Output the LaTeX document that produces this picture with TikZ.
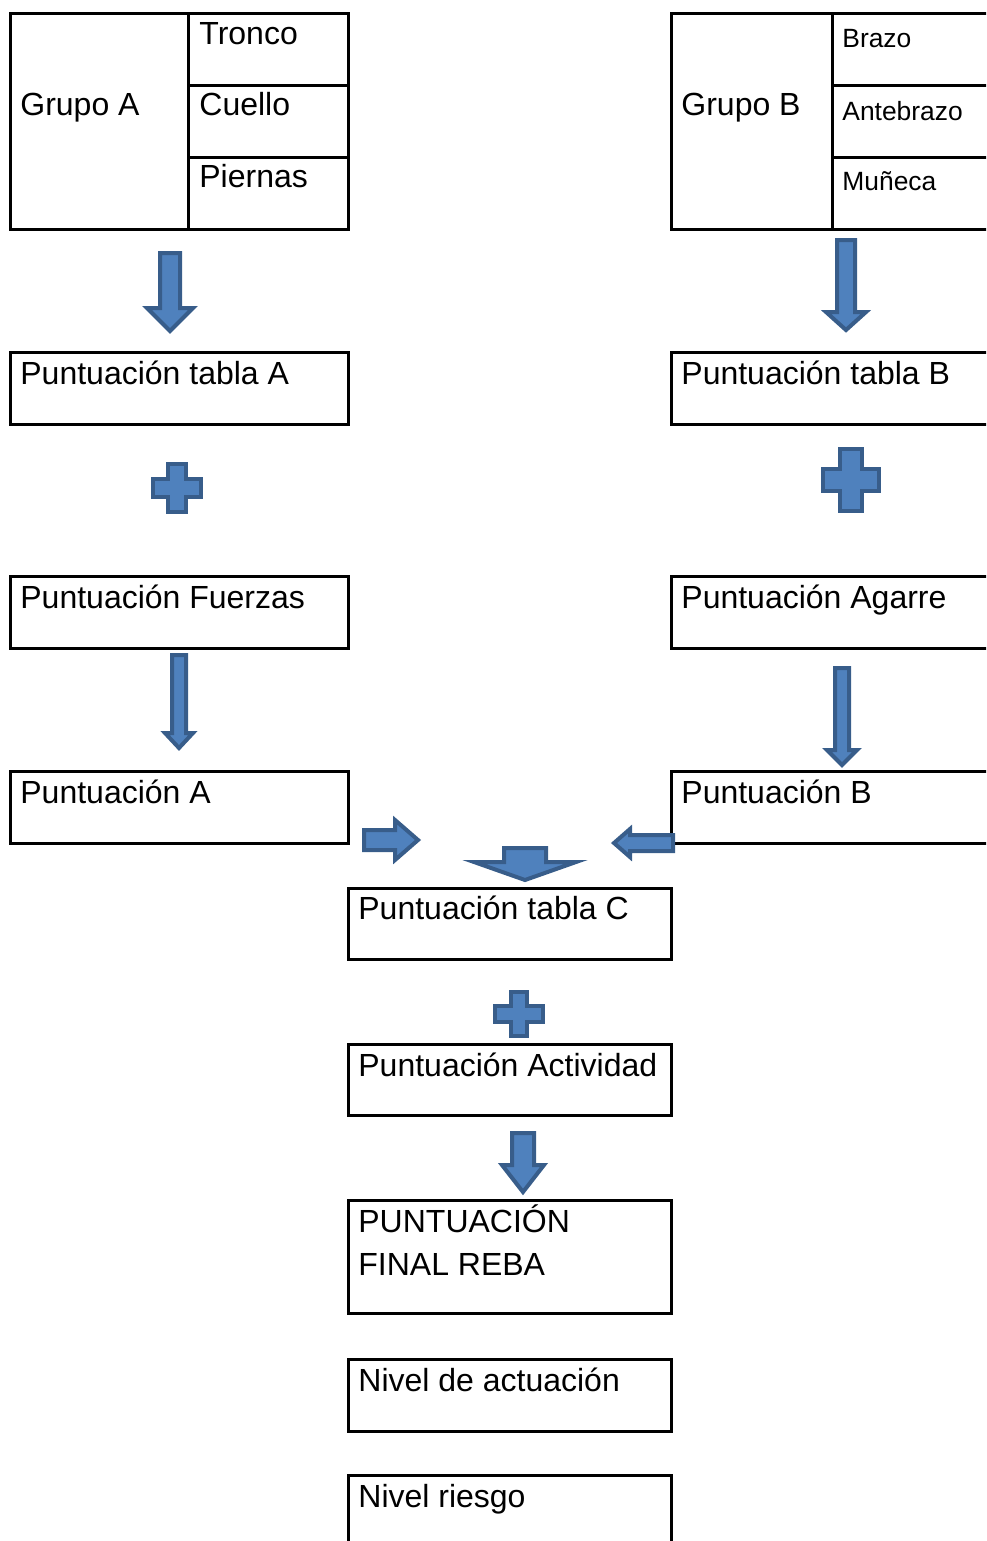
\documentclass[tikz,border=0pt]{standalone}
\usepackage{fontspec}
\setmainfont{Liberation Sans}
\usepackage{tikz}
\usepackage{xcolor}

\definecolor{blkfill}{HTML}{4F81BD}
\definecolor{blkline}{HTML}{385D8A}

% block arrows: centre x, top y, tip y, shaft half, head half, head start y
\newcommand{\downblock}[6]{%
  \draw[blk] (#1-#4,#2) -- (#1+#4,#2) -- (#1+#4,#6) -- (#1+#5,#6) -- (#1,#3)
    -- (#1-#5,#6) -- (#1-#4,#6) -- cycle;}
% horizontal: tail x, tip x, centre y, shaft half, head half, head start x
\newcommand{\sideblock}[6]{%
  \draw[blk] (#1,#3-#4) -- (#6,#3-#4) -- (#6,#3-#5) -- (#2,#3) -- (#6,#3+#5)
    -- (#6,#3+#4) -- (#1,#3+#4) -- cycle;}
% plus sign: centre x, centre y, half width, half height, arm half
\newcommand{\plusblock}[5]{%
  \draw[blk] (#1-#5,#2-#4) -- (#1+#5,#2-#4) -- (#1+#5,#2-#5) -- (#1+#3,#2-#5)
    -- (#1+#3,#2+#5) -- (#1+#5,#2+#5) -- (#1+#5,#2+#4) -- (#1-#5,#2+#4)
    -- (#1-#5,#2+#5) -- (#1-#3,#2+#5) -- (#1-#3,#2-#5) -- (#1-#5,#2-#5) -- cycle;}

\begin{document}
\begin{tikzpicture}[x=0.5pt, y=-0.5pt,
  box/.style={draw=black, line width=1.5pt},
  blk/.style={fill=blkfill, draw=blkline, line width=2pt, line join=miter},
  lbl/.style={anchor=base west, inner sep=0pt, font=\fontsize{16}{19}\selectfont},
  slbl/.style={anchor=base west, inner sep=0pt, font=\fontsize{13.2}{16}\selectfont}]
  \useasboundingbox (0,0) rectangle (986,1541);
  \clip (0,0) rectangle (986,1541);
  % Grupo A
  \draw[box] (10,14) rectangle (348,229);
  \draw[box] (188,14) -- (188,229);
  \draw[box] (188,86) -- (348,86);
  \draw[box] (188,157) -- (348,157);
  \node[lbl] (grupoA) at (20,116) {Grupo A};
  \node[lbl] (tronco) at (199,45) {Tronco};
  \node[lbl] (cuello) at (199,116) {Cuello};
  \node[lbl] (piernas) at (199,187) {Piernas};
  % Grupo B
  \draw[box] (671,14) rectangle (1000,229);
  \draw[box] (832,14) -- (832,229);
  \draw[box] (832,86) -- (1000,86);
  \draw[box] (832,157) -- (1000,157);
  \node[lbl] (grupoB) at (681,116) {Grupo B};
  \node[slbl] (brazo) at (842,48) {Brazo};
  \node[slbl] (antebrazo) at (842,120) {Antebrazo};
  \node[slbl] (muneca) at (842,191) {Muñeca};
  % Columna A
  \draw[box] (10,352) rectangle (348,424);
  \node[lbl] (tablaA) at (20,384) {Puntuación tabla A};
  \draw[box] (10,576) rectangle (348,648);
  \node[lbl] (fuerzas) at (20,608) {Puntuación Fuerzas};
  \draw[box] (10,771) rectangle (348,843);
  \node[lbl] (puntA) at (20,803) {Puntuación A};
  % Columna B
  \draw[box] (671,352) rectangle (1000,424);
  \node[lbl] (tablaB) at (681,384) {Puntuación tabla B};
  \draw[box] (671,576) rectangle (1000,648);
  \node[lbl] (agarre) at (681,608) {Puntuación Agarre};
  \draw[box] (671,771) rectangle (1000,843);
  \node[lbl] (puntB) at (681,803) {Puntuación B};
  % Columna C
  \draw[box] (348,888) rectangle (671,959);
  \node[lbl] (tablaC) at (358,919) {Puntuación tabla C};
  \draw[box] (348,1044) rectangle (671,1115);
  \node[lbl] (actividad) at (358,1076) {Puntuación Actividad};
  \draw[box] (348,1200) rectangle (671,1313);
  \node[lbl] (final1) at (358,1232) {PUNTUACIÓN};
  \node[lbl] (final2) at (358,1275) {FINAL REBA};
  \draw[box] (348,1359) rectangle (671,1431);
  \node[lbl] (actuacion) at (358,1391) {Nivel de actuación};
  \draw[box] (348,1600) -- (348,1475) -- (671,1475) -- (671,1600);
  \node[lbl] (riesgo) at (358,1507) {Nivel riesgo};
  % Flechas y signos
  \downblock{170}{253}{331}{10}{23}{308}
  \downblock{846}{240}{330}{9}{20}{312}
  \plusblock{177}{488}{24}{24}{9}
  \plusblock{851}{480}{28}{31}{11}
  \downblock{179}{655}{748}{7}{14}{733}
  \downblock{842}{668}{765}{7}{15}{750}
  \sideblock{364}{418}{840}{10}{20}{395}
  \sideblock{673}{614}{843}{8}{14}{630}
  \downblock{525}{848}{880}{21}{51}{862}
  \plusblock{519}{1014}{24}{22}{8}
  \downblock{523}{1133}{1192}{11}{21}{1165}
\end{tikzpicture}
\end{document}
